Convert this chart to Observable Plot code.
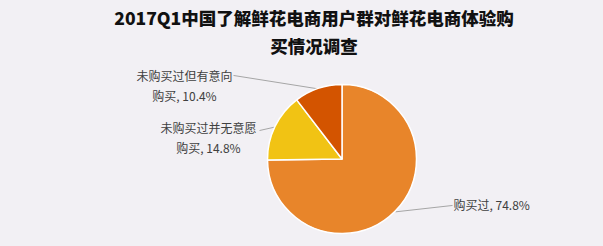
<!DOCTYPE html>
<html>
<head>
<meta charset="utf-8">
<script src="https://cdn.jsdelivr.net/npm/d3@7"></script>
<script src="https://cdn.jsdelivr.net/npm/@observablehq/plot@0.6"></script>
<style>
  html, body { margin: 0; padding: 0; background: #f2f0f4; }
  body { width: 603px; height: 246px; overflow: hidden; font-family: "Noto Sans CJK SC", sans-serif; }
  #title { box-sizing: border-box; height: 60px; padding: 4px 0 0 25px; text-align: center; white-space: nowrap;
           font-weight: 900; font-size: 17.5px; line-height: 28px; color: #111; }
  svg { display: block; }
</style>
</head>
<body>
<div id="title">2017Q1中国了解鲜花电商用户群对鲜花电商体验购<br>买情况调查</div>
<div id="chart"></div>
<script>
// ---- data ----
const categories = ["购买过", "未购买过并无意愿购买", "未购买过但有意向购买"];
const shares = [74.8, 14.8, 10.4];
const labels = ["购买过, 74.8%", "未购买过并无意愿\n购买, 14.8%", "未购买过但有意向\n购买, 10.4%"];
const colors = ["#e8852a", "#f1c314", "#d35400"];

// ---- layout (in pie-radius units, centre at 0,0) ----
const W = 603, H = 186, CX = 342, CY = 99, R = 74.5;
const lineEnds = [[1.477, -0.617], [-1.114, 0.389], [-1.463, 1.128]];
const textPos = [[1.49, -0.591, "start"], [-1.799, 0.309, "middle"], [-2.121, 1.007, "middle"]];

const pie = d3.pie().sort(null).value(d => d.value)(
  categories.map((c, i) => ({name: c, value: shares[i], color: colors[i], label: labels[i]}))
);
const rows = pie.map((p, i) => {
  const mid = (p.startAngle + p.endAngle) / 2;
  return {
    ...p.data, arc: p,
    ex: Math.sin(mid), ey: Math.cos(mid),
    lx: lineEnds[i][0], ly: lineEnds[i][1],
    tx: textPos[i][0], ty: textPos[i][1], anchor: textPos[i][2]
  };
});

const pieMark = (index, scales) => {
  const {x, y} = scales;
  const cx = x(0), cy = y(0), r = x(1) - x(0);
  const arc = d3.arc().innerRadius(0).outerRadius(r);
  const g = d3.create("svg:g").attr("transform", `translate(${cx},${cy})`);
  g.selectAll("path").data(rows).join("path")
    .attr("d", d => arc(d.arc))
    .attr("fill", d => d.color)
    .attr("stroke", "#ffffff")
    .attr("stroke-width", 1.5)
    .attr("stroke-linejoin", "round");
  return g.node();
};

const chart = Plot.plot({
  width: W, height: H,
  margin: 0,
  style: {background: "transparent", fontFamily: "'Noto Sans CJK SC', sans-serif", overflow: "visible"},
  x: {domain: [-CX / R, (W - CX) / R], range: [0, W], axis: null},
  y: {domain: [-(H - CY) / R, CY / R], range: [H, 0], axis: null},
  marks: [
    Plot.link(rows, {x1: "ex", y1: "ey", x2: "lx", y2: "ly", stroke: "#a6a6a6", strokeWidth: 1}),
    pieMark,
    Plot.text(rows.filter(d => d.anchor === "start"), {x: "tx", y: "ty", text: "label", textAnchor: "start",
      fontSize: 12, fill: "#404040", lineHeight: 1.65}),
    Plot.text(rows.filter(d => d.anchor === "middle"), {x: "tx", y: "ty", text: "label", textAnchor: "middle",
      lineAnchor: "middle", fontSize: 12, fill: "#404040", lineHeight: 1.65})
  ]
});
document.getElementById("chart").appendChild(chart);
</script>
</body>
</html>
